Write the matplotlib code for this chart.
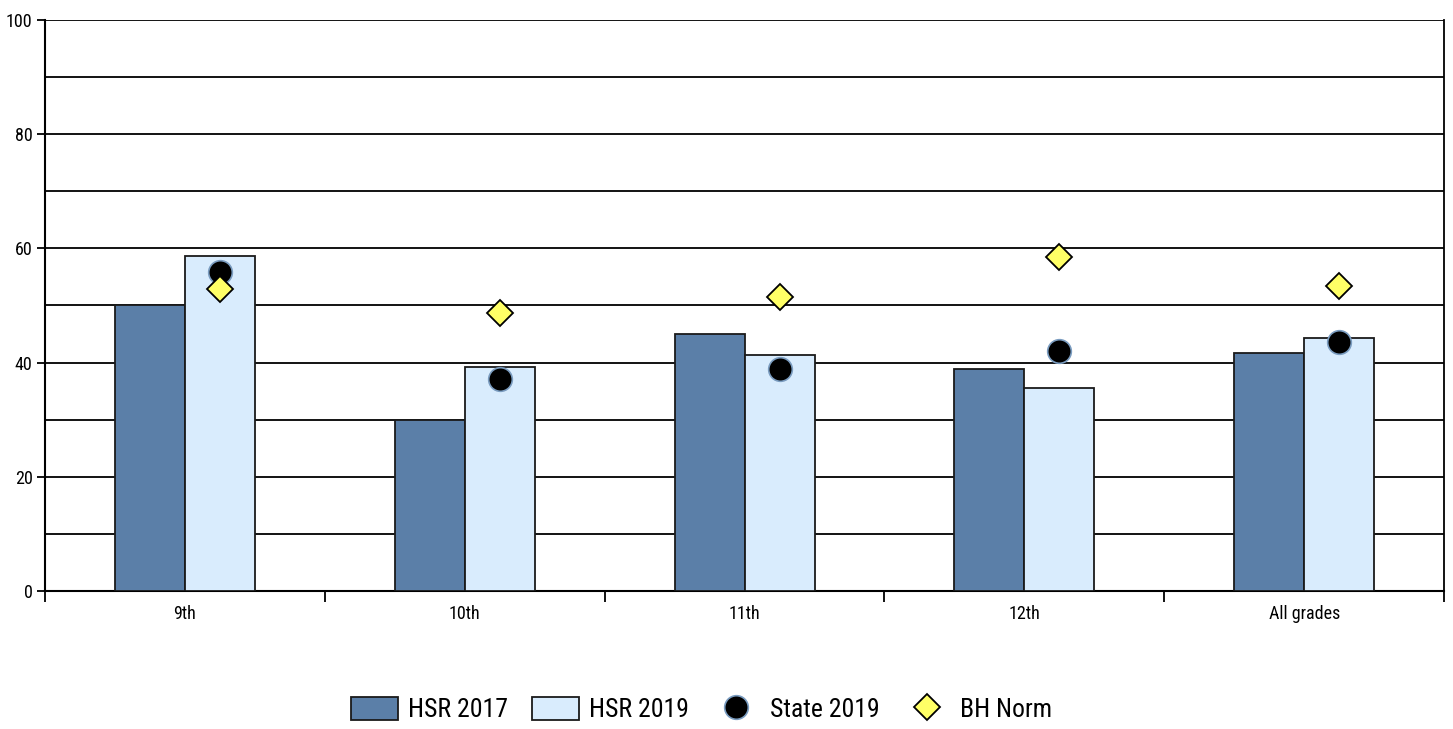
import matplotlib
matplotlib.use("Agg")
import matplotlib.pyplot as plt
from matplotlib import font_manager
import numpy as np

categories = ["9th", "10th", "11th", "12th", "All grades"]
hsr_2017 = [50.0, 30.0, 45.0, 38.9, 41.7]
hsr_2019 = [58.7, 39.2, 41.3, 35.6, 44.3]
state_2019 = [55.9, 37.1, 38.9, 42.0, 43.6]
bh_norm = [52.9, 48.7, 51.5, 58.5, 53.4]

names = {f.name for f in font_manager.fontManager.ttflist}
fam = None
for cand in ["Liberation Sans Narrow", "Roboto Condensed", "Open Sans Condensed", "DejaVu Sans Condensed"]:
    if cand in names:
        fam = cand
        break
plt.rcParams['font.family'] = [fam or 'DejaVu Sans', 'DejaVu Sans']
plt.rcParams['font.stretch'] = 'condensed'

fig = plt.figure(figsize=(14.53, 7.29), dpi=100)
ax = fig.add_axes([0.031, 0.1893, 0.9629, 0.7833])

x = np.arange(len(categories))
w = 0.25
b1 = ax.bar(x - w/2, hsr_2017, width=w, color="#5B7FA8", edgecolor="#1a1a1a", linewidth=1.3, label="HSR 2017", zorder=3)
b2 = ax.bar(x + w/2, hsr_2019, width=w, color="#D9ECFD", edgecolor="#1a1a1a", linewidth=1.3, label="HSR 2019", zorder=3)
l1, = ax.plot(x + w/2, state_2019, linestyle="none", marker="o", markersize=17, markerfacecolor="black",
        markeredgecolor="#7A9CC0", markeredgewidth=1.2, label="State 2019", zorder=5)
l2, = ax.plot(x + w/2, bh_norm, linestyle="none", marker="D", markersize=13, markerfacecolor="#FFFF66",
        markeredgecolor="black", markeredgewidth=1.3, label="BH Norm", zorder=6)

ax.set_xlim(-0.5, len(categories) - 0.5)
ax.set_ylim(0, 100)
ax.set_yticks([0, 20, 40, 60, 80, 100])
ax.set_yticks(np.arange(0, 101, 10), minor=True)
ax.yaxis.grid(True, which="both", color="black", linewidth=1.3, zorder=0)
ax.set_axisbelow(True)
ax.tick_params(axis="y", which="major", length=6, width=1.3, labelsize=13, pad=3)
ax.tick_params(axis="y", which="minor", length=0)

ax.set_xticks(x)
ax.set_xticklabels(categories)
ax.set_xticks(np.arange(-0.5, len(categories), 1.0), minor=True)
ax.tick_params(axis="x", which="major", length=0, labelsize=13, pad=10)
ax.tick_params(axis="x", which="minor", length=8, width=1.3, direction="out")

for s in ["left", "bottom"]:
    ax.spines[s].set_linewidth(1.5)
ax.spines["top"].set_visible(False)
ax.spines["right"].set_linewidth(1.3)

leg = fig.legend([b1, b2, l1, l2], ["HSR 2017", "HSR 2019", "State 2019", "BH Norm"],
                 loc="lower center", bbox_to_anchor=(0.483, -0.022), ncol=4, frameon=False,
                 fontsize=18.5, handlelength=1.8, handleheight=1.0, columnspacing=0.95, handletextpad=0.4)

fig.savefig("out.png", dpi=100)
